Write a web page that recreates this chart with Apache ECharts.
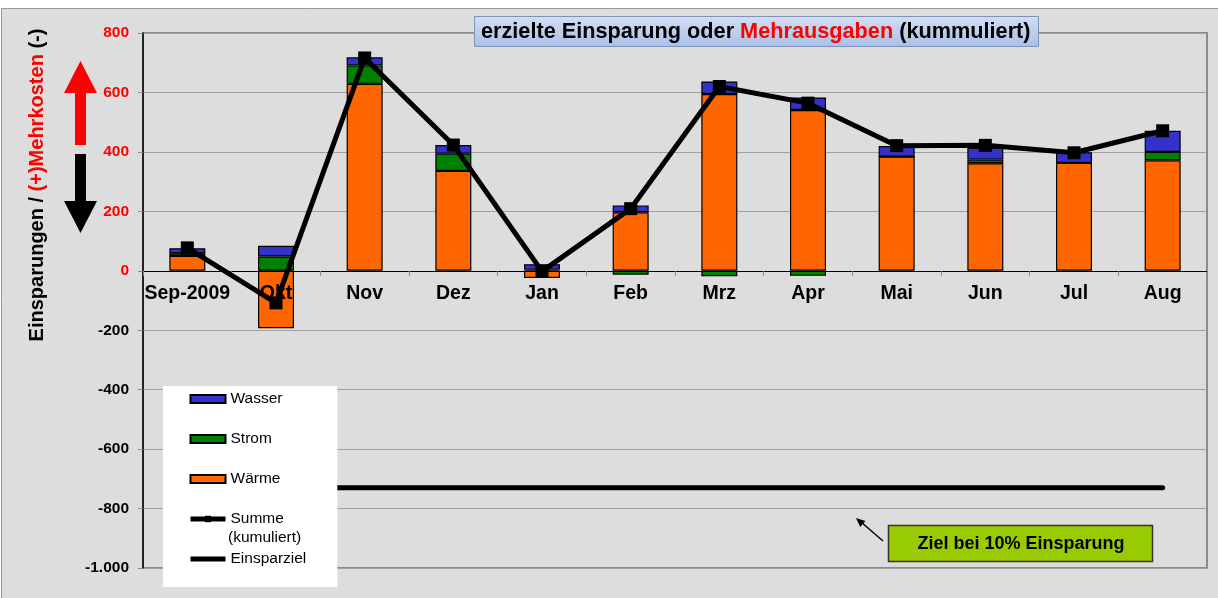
<!DOCTYPE html>
<html>
<head>
<meta charset="utf-8">
<script src="https://cdn.jsdelivr.net/npm/echarts@6/dist/echarts.min.js"></script>
<style>
  html, body { margin: 0; padding: 0; background: #fff; }
  #chart { width: 1218px; height: 598px; }
</style>
</head>
<body>
<div id="chart"></div>
<script>
// Monate
var monate = ['Sep-2009', 'Okt', 'Nov', 'Dez', 'Jan', 'Feb', 'Mrz', 'Apr', 'Mai', 'Jun', 'Jul', 'Aug'];
// Werte je Medium (kummuliert)
var waerme = [50, -193, 629, 336, -24, 197, 595, 541, 384, 362, 363, 372];
var strom  = [9, 48, 62, 58, 4, -13, -18, -17, 0, 12, 0, 28];
var wasser = [17, 36, 27, 29, 18, 23, 42, 42, 36, 40, 36, 71];
var summe  = [77, -108, 716, 423, -2, 209, 620, 564, 421, 422, 397, 471];
var einsparziel = [-730, -730, -730, -730, -730, -730, -730, -730, -730, -730, -730, -730];
// y-Achse
var yMin = -1000, yMax = 800, yStep = 200;

var FONT = '"Liberation Sans", Arial, sans-serif';

var chart = echarts.init(document.getElementById('chart'));

// Textbreite messen
var ctx = document.createElement('canvas').getContext('2d');
function tw(txt, size) { ctx.font = 'bold ' + size + 'px ' + FONT; return ctx.measureText(txt).width; }

function fmt(v) {
    var s = String(Math.abs(v));
    if (s.length > 3) s = s.slice(0, s.length - 3) + '.' + s.slice(s.length - 3);
    return (v < 0 ? '-' : '') + s;
}

// mehrfarbige Textzeile aus Teilen bauen
function parts(list, size, x0, z) {
    var out = [], x = x0;
    list.forEach(function (p) {
        out.push({
            type: 'text', x: x, y: 0, z: z,
            style: { text: p[0], fontFamily: FONT, fontWeight: 'bold', fontSize: size, fill: p[1], verticalAlign: 'middle' }
        });
        x += tw(p[0], size);
    });
    return out;
}

// Titel
var titelGr = 21.7;
var titelTeile = [['erzielte Einsparung oder ', '#000'], ['Mehrausgaben', '#ff0000'], [' (kummuliert)', '#000']];
var titelW = titelTeile.reduce(function (s, p) { return s + tw(p[0], titelGr); }, 0);
// y-Achsentitel
var achsGr = 20;
var achsTeile = [['Einsparungen / ', '#000'], ['(+)Mehrkosten', '#ff0000'], [' (-)', '#000']];
var achsW = achsTeile.reduce(function (s, p) { return s + tw(p[0], achsGr); }, 0);

// Pixelabstand der Nulllinie vom unteren Rand (fuer die x-Achse)
var plotH = 598 - 33 - 30;
var zeroOffset = -plotH * (0 - yMin) / (yMax - yMin);

var option = {
    backgroundColor: '#ffffff',
    animation: false,
    legend: {
        orient: 'vertical',
        left: 163,
        top: 386,
        padding: [5, 31, 20, 25],
        backgroundColor: '#ffffff',
        itemWidth: 35,
        itemHeight: 8,
        itemGap: 24,
        lineStyle: { width: 5 },
        data: [
            { name: 'Wasser', icon: 'rect' },
            { name: 'Strom', icon: 'rect' },
            { name: 'Wärme', icon: 'rect' },
            { name: 'Summe (kumuliert)' },
            { name: 'Einsparziel', icon: 'path://M0,0h35v5h-35z' }
        ],
        formatter: function (name) {
            return name === 'Summe (kumuliert)' ? 'Summe' : name;
        },
        textStyle: { fontFamily: FONT, fontSize: 15.5, color: '#000', lineHeight: 16 }
    },
    grid: {
        left: 143,
        right: 11,
        top: 33,
        bottom: 30,
        show: true,
        borderColor: '#8c8c8c',
        borderWidth: 2,
        backgroundColor: '#dddddd'
    },
    xAxis: {
        type: 'category',
        data: monate,
        offset: zeroOffset,
        z: 4,
        axisLine: { onZero: false, lineStyle: { color: '#000', width: 1 } },
        axisTick: { show: true, length: 5, lineStyle: { color: '#888' } },
        axisLabel: {
            interval: 0,
            margin: 13,
            fontFamily: FONT,
            fontWeight: 'bold',
            fontSize: 19.5,
            color: '#000'
        }
    },
    yAxis: {
        type: 'value',
        min: yMin,
        max: yMax,
        interval: yStep,
        axisLine: { show: true, lineStyle: { color: '#000', width: 1.5 } },
        axisTick: { show: true, length: 5, lineStyle: { color: '#888' } },
        splitLine: { lineStyle: { color: '#a0a0a0', width: 1 } },
        axisLabel: {
            margin: 14,
            fontFamily: FONT,
            fontWeight: 'bold',
            fontSize: 15.5,
            formatter: fmt,
            color: function (v) { return Number(v) >= 0 ? '#ff0000' : '#000'; }
        }
    },
    series: [
        {
            name: 'Wärme',
            type: 'bar',
            stack: 'k',
            barWidth: 36,
            data: waerme,
            itemStyle: { color: '#ff6600', borderColor: '#000', borderWidth: 1.2 }
        },
        {
            name: 'Strom',
            type: 'bar',
            stack: 'k',
            barWidth: 36,
            data: strom,
            itemStyle: { color: '#008000', borderColor: '#000', borderWidth: 1.2 }
        },
        {
            name: 'Wasser',
            type: 'bar',
            stack: 'k',
            barWidth: 36,
            data: wasser,
            itemStyle: { color: '#3333cc', borderColor: '#000', borderWidth: 1.2 }
        },
        {
            name: 'Summe (kumuliert)',
            type: 'line',
            data: summe,
            z: 5,
            symbol: 'rect',
            symbolSize: 13,
            lineStyle: { color: '#000', width: 5 },
            itemStyle: { color: '#000' }
        },
        {
            name: 'Einsparziel',
            type: 'line',
            data: einsparziel,
            z: 3,
            symbol: 'none',
            lineStyle: { color: '#000', width: 5, cap: 'round' },
            itemStyle: { color: '#000' }
        }
    ],
    graphic: [
        // grauer Hintergrund
        {
            type: 'rect', z: -10, silent: true,
            shape: { x: 1.5, y: 8.5, width: 1230, height: 600 },
            style: { fill: '#dddddd', stroke: '#999', lineWidth: 1 }
        },
        // Titelkasten
        {
            type: 'rect', z: 10,
            shape: { x: 474.5, y: 16.5, width: Math.round(titelW) + 14, height: 30 },
            style: {
                stroke: '#7f93b8', lineWidth: 1,
                fill: new echarts.graphic.LinearGradient(0, 0, 0, 1, [
                    { offset: 0, color: '#d3def2' },
                    { offset: 1, color: '#a9c0e8' }
                ])
            }
        },
        {
            type: 'group', x: 0, y: 32,
            children: parts(titelTeile, titelGr, 481, 11)
        },
        // y-Achsentitel
        {
            type: 'group', x: 37, y: 185, rotation: Math.PI / 2,
            children: parts(achsTeile, achsGr, -achsW / 2, 10)
        },
        // roter Pfeil hoch
        {
            type: 'polygon', z: 10,
            shape: { points: [[75, 145], [86, 145], [86, 93], [97, 93], [80.5, 61], [64, 93], [75, 93]] },
            style: { fill: '#ff0000' }
        },
        // schwarzer Pfeil runter
        {
            type: 'polygon', z: 10,
            shape: { points: [[75, 154], [86, 154], [86, 201], [97, 201], [80.5, 233], [64, 201], [75, 201]] },
            style: { fill: '#000' }
        },
        // Legende Zusatzzeile
        {
            type: 'text', x: 228, y: 538, z: 10,
            style: { text: '(kumuliert)', fontFamily: FONT, fontSize: 15.5, fill: '#000', verticalAlign: 'middle' }
        },
        // Hinweis Ziel
        {
            type: 'rect', z: 10,
            shape: { x: 888.5, y: 525.5, width: 264, height: 36 },
            style: { fill: '#99cc00', stroke: '#333', lineWidth: 1.5 }
        },
        {
            type: 'text', x: 1021, y: 544, z: 11,
            style: {
                text: 'Ziel bei 10% Einsparung',
                fontFamily: FONT, fontWeight: 'bold', fontSize: 18,
                fill: '#000',
                align: 'center', verticalAlign: 'middle'
            }
        },
        {
            type: 'line', z: 10,
            shape: { x1: 883, y1: 541, x2: 861, y2: 522 },
            style: { stroke: '#000', lineWidth: 1.5 }
        },
        {
            type: 'polygon', z: 10,
            shape: { points: [[856, 518], [860.2, 526.9], [865.4, 520.9]] },
            style: { fill: '#000' }
        }
    ]
};

chart.setOption(option);
</script>
</body>
</html>
